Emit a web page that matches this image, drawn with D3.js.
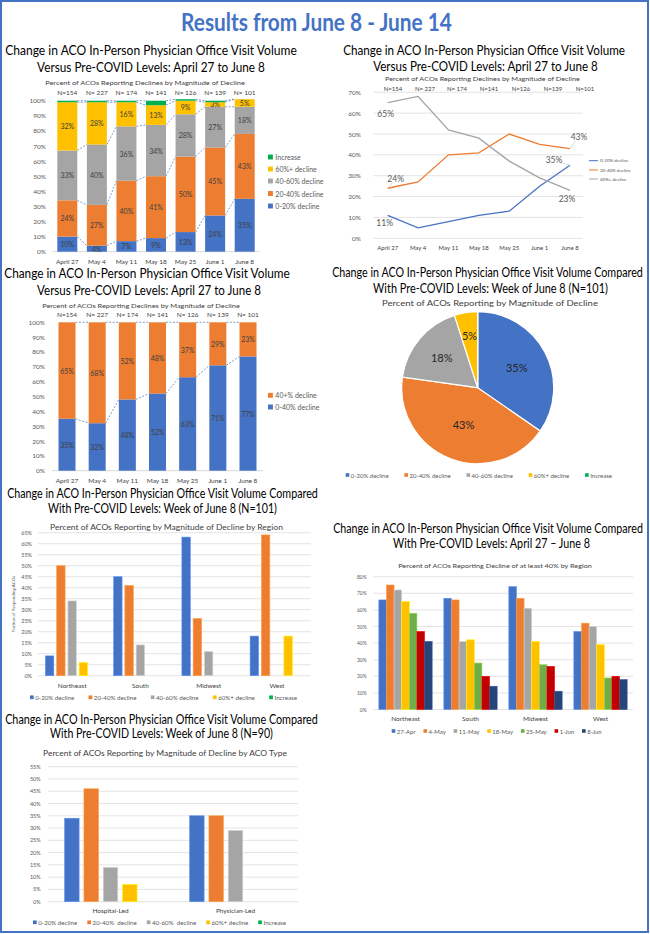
<!DOCTYPE html>
<html>
<head>
<meta charset="utf-8">
<script src="https://cdn.jsdelivr.net/npm/d3@7"></script>
<style>
body{margin:0;background:#fff}
svg{font-family:Lato,"Open Sans",sans-serif;display:block}
</style>
</head>
<body>
<script>
// ---- DATA ----
const weeks = ["April 27","May 4","May 11","May 18","May 25","June 1","June 8"]
const nLabels = ["N=154","N= 227","N= 174","N= 141","N= 126","N= 139","N= 101"]
const nLabels2 = ["N=154","N= 227","N= 174","N=141","N=126","N=139","N=101"]
const declineCats = ["0-20% decline","20-40% decline","40-60% decline","60%+ decline","Increase"]

// stacked chart, April 27 - June 8
const dec0_20 = [10,4,7,9,13,24,35]
const dec20_40 = [24,27,40,41,50,45,43]
const dec40_60 = [33,40,36,34,28,27,18]
const dec60plus = [32,28,16,13,9,3,5]
const increase = [1,1,1,3,1,1,0]

// line chart
const line0_20 = [11,5,8,11,13,25,35]
const line20_40 = [24,27,40,41,50,45,43]
const line40plus = [65,68,52,48,37,29,23]

// two-part stacked chart
const dec0_40 = [35,32,48,52,63,71,77]
const dec40plusBar = [65,68,52,48,37,29,23]

// pie, week of June 8
const pieVals = [35,43,18,5,0]

// by region, week of June 8
const regions = ["Northeast","South","Midwest","West"]
const reg0_20 = [9,45,63,18]
const reg20_40 = [50,41,26,64]
const reg40_60 = [34,14,11,0]
const reg60plus = [6,0,0,18]
const regIncrease = [0,0,0,0]

// decline of at least 40% by region, per week
const weekShort = ["27-Apr","4-May","11-May","18-May","25-May","1-Jun","8-Jun"]
const w27Apr = [66,67,74,47]
const w4May = [75,66,67,52]
const w11May = [72,41,61,50]
const w18May = [65,42,41,39]
const w25May = [58,28,27,19]
const w1Jun = [47,20,26,20]
const w8Jun = [41,14,11,18]

// by ACO type
const acoTypes = ["Hospital-Led","Physician-Led"]
const type0_20 = [34,35]
const type20_40 = [46,35]
const type40_60 = [14,29]
const type60plus = [7,0]
const typeIncrease = [0,0]
const typeLegend = ["0-20% decline","20-40%  decline","40-60%  decline","60%+ decline","Increase"]

// ---- COLOURS ----
const blue = "#4472C4", orange = "#ED7D31", grey = "#A5A5A5", yellow = "#FFC000", green = "#00B050"
const catColors = [blue, orange, grey, yellow, green]
const weekColors = [blue, orange, grey, yellow, "#70AD47", "#C00000", "#264478"]
const gridC = "#D9D9D9", textC = "#595959"

const svg = d3.select("body").append("svg").attr("width",650).attr("height",934)

function label(g, x, y, s, size, color, anchor){
  return g.append("text").attr("x",x).attr("y",y)
    .attr("font-size",size).attr("fill",color || textC)
    .attr("text-anchor",anchor || "middle")
    .attr("dominant-baseline","central")
    .style("white-space","pre")
    .text(s)
}
// title squeezed horizontally so it spans x1..x2
function title(x1, x2, y, s, size, color, bold){
  const t = label(svg,0,0,s,size,color || "#000")
  if (bold) t.attr("font-weight","bold")
  const sx = (x2-x1) / t.node().getComputedTextLength()
  t.attr("transform",`translate(${(x1+x2)/2},${y}) scale(${sx},1)`)
  return t
}
// horizontal legend spread between x1 and x2
function legendRow(x1, x2, y, names, colors, size){
  const g = svg.append("g")
  const items = names.map((n,i) => {
    const it = g.append("g")
    it.append("rect").attr("x",0).attr("y",y-size*0.3).attr("width",size*0.6).attr("height",size*0.6).attr("fill",colors[i])
    const t = label(it, size*0.85, y, n, size, textC, "start")
    return {it, w: size*0.85 + t.node().getComputedTextLength()}
  })
  const total = d3.sum(items, d=>d.w)
  const gap = (x2 - x1 - total) / (items.length - 1)
  let x = x1
  items.forEach(d => { d.it.attr("transform",`translate(${x},0)`); x += d.w + gap })
}
function legendCol(x, ys, names, colors, size){
  names.forEach((n,i) => {
    svg.append("rect").attr("x",x).attr("y",ys[i]-size*0.35).attr("width",size*0.7).attr("height",size*0.7).attr("fill",colors[i])
    label(svg, x+size*1.05, ys[i], n, size, textC, "start")
  })
}

// outer border + main title
svg.append("rect").attr("x",1).attr("y",1).attr("width",647).attr("height",931)
  .attr("fill","none").attr("stroke",blue).attr("stroke-width",2)
title(181,452,21,"Results from June 8 - June 14",25,blue,true)

// ---- 1. STACKED BARS ----
function stackedBars(o){
  const x = d3.scalePoint().domain(weeks).range(o.xr)
  const y = d3.scaleLinear().domain([0,100]).range(o.yr)
  const rows = weeks.map((w,i) => o.series.map(s => s[i]))
  const st = d3.stack().keys(d3.range(o.series.length))(rows)
  const hw = o.bw/2
  const g = svg.append("g")

  y.ticks(10).forEach(t => label(g, o.yLabX, y(t), t+"%", 6.5, textC, "end"))
  g.append("line").attr("x1",o.xr[0]-15).attr("x2",o.xr[1]+15).attr("y1",y(0)).attr("y2",y(0)).attr("stroke",gridC)

  st.forEach((s,k) => {
    g.selectAll(null).data(s).enter().append("rect")
      .attr("x",(d,j)=>x(weeks[j])-hw).attr("width",o.bw)
      .attr("y",d=>y(d[1])).attr("height",d=>y(d[0])-y(d[1]))
      .attr("fill",o.colors[k])
    // series lines
    for (let j=0; j<weeks.length-1; j++){
      g.append("line")
        .attr("x1",x(weeks[j])+hw).attr("y1",y(s[j][1]))
        .attr("x2",x(weeks[j+1])-hw).attr("y2",y(s[j+1][1]))
        .attr("stroke",blue).attr("stroke-width",0.7).attr("stroke-dasharray","2,1.5")
    }
    if (k < o.labelled){
      s.forEach((d,j) => {
        const v = d[1]-d[0]
        if (v > 0) label(g, x(weeks[j]), (y(d[0])+y(d[1]))/2, v+"%", 7, "#404040")
      })
    }
  })
  weeks.forEach((w,j) => {
    label(g, x(w), o.xLabY, w, 6.5, "#404040")
    label(g, x(w), o.nY, nLabels[j], 6.5, "#404040")
  })
}

title(5,297,50,"Change in ACO In-Person Physician Office Visit Volume",13)
title(37,265,67,"Versus Pre-COVID Levels: April 27 to June 8",13)
title(45,245,82,"Percent of ACOs Reporting Declines by Magnitude of Decline",6.5,"#404040")
stackedBars({xr:[67.3,244.7], yr:[251.7,100.7], bw:20, yLabX:46,
  series:[dec0_20,dec20_40,dec40_60,dec60plus,increase], colors:catColors, labelled:4,
  xLabY:261.5, nY:92})
legendCol(268,[157,169,181,193.5,206],
  ["Increase","60%+ decline","40-60% decline","20-40% decline","0-20% decline"],
  [green,yellow,grey,orange,blue],7)

// ---- 2. LINE CHART ----
title(343,625,50,"Change in ACO In-Person Physician Office Visit Volume",12.5)
title(373,598,66,"Versus Pre-COVID Levels: April 27 to June 8",12.5)
title(385,580,78,"Percent of ACOs Reporting Declines by Magnitude of Decline",6,"#404040")
{
  const x = d3.scalePoint().domain(weeks).range([387.7,570])
  const xn = d3.scalePoint().domain(weeks).range([393,585])
  const y = d3.scaleLinear().domain([0,70]).range([238.3,92.3])
  const g = svg.append("g")
  y.ticks(7).forEach(t => {
    g.append("line").attr("x1",373).attr("x2",583).attr("y1",y(t)).attr("y2",y(t)).attr("stroke",gridC).attr("stroke-width",0.7)
    label(g, 361, y(t), t+"%", 6.5, textC, "end")
  })
  weeks.forEach((w,j) => {
    label(g, x(w), 247.7, w, 6, "#404040")
    label(g, xn(w), 88, nLabels2[j], 6, "#404040")
  })
  const line = d3.line().x((d,j)=>x(weeks[j])).y(d=>y(d))
  const ser = [line0_20, line20_40, line40plus], cols = [blue, orange, grey]
  ser.forEach((s,k) => g.append("path").attr("d",line(s)).attr("fill","none").attr("stroke",cols[k]).attr("stroke-width",1.3))
  // data labels: [series, index, dx, dy, leader]
  const dl = [[2,0,-2,11.6,false],[1,0,8,-9.5,true],[0,0,-3,8,false],[1,6,9,-12,true],[0,6,-16,-5,true],[2,6,-3,9,false]]
  dl.forEach(([k,j,dx,dy,lead]) => {
    const px = x(weeks[j]), py = y(ser[k][j])
    if (lead) g.append("line").attr("x1",px).attr("y1",py).attr("x2",px+dx*0.6).attr("y2",py+dy*0.6).attr("stroke","#BFBFBF").attr("stroke-width",0.6)
    label(g, px+dx, py+dy, ser[k][j]+"%", 8.5, textC)
  })
  const ys = [160.7,170,179], names = ["0-20% decline","20-40% decline","40%+ decline"]
  names.forEach((n,i) => {
    g.append("line").attr("x1",589).attr("x2",598).attr("y1",ys[i]).attr("y2",ys[i]).attr("stroke",cols[i]).attr("stroke-width",1)
    label(g, 600, ys[i], n, 4.5, textC, "start")
  })
}

// ---- 3. TWO-PART STACKED ----
title(4,290,273,"Change in ACO In-Person Physician Office Visit Volume",13)
title(37,261,290,"Versus Pre-COVID Levels: April 27 to June 8",13)
title(42,240,305,"Percent of ACOs Reporting Declines by Magnitude of Decline",6.5,"#404040")
stackedBars({xr:[67,248], yr:[470.7,322.3], bw:17, yLabX:45,
  series:[dec0_40,dec40plusBar], colors:[blue,orange], labelled:2,
  xLabY:480.3, nY:314.3})
legendCol(268,[395.3,407],["40+% decline","0-40% decline"],[orange,blue],7)

// ---- 4. PIE ----
title(332,643,272,"Change in ACO In-Person Physician Office Visit Volume Compared",12.5)
title(373,608,287.5,"With Pre-COVID Levels: Week of June 8 (N=101)",12.5)
title(382,598,303,"Percent of ACOs Reporting by Magnitude of Decline",8.5,"#404040")
{
  const g = svg.append("g").attr("transform","translate(477.7,387.7)")
  const arcs = d3.pie().sort(null).value(d=>d)(pieVals)
  const arc = d3.arc().innerRadius(0).outerRadius(76)
  g.selectAll("path").data(arcs).enter().append("path")
    .attr("d",arc).attr("fill",(d,i)=>catColors[i]).attr("stroke","#fff").attr("stroke-width",1.2)
  const labelR = [44,39,47,53]
  arcs.forEach((a,i) => {
    if (!a.data) return
    const c = d3.arc().innerRadius(labelR[i]).outerRadius(labelR[i]).centroid(a)
    label(g, c[0], c[1], a.data+"%", 11, "#262626")
  })
  legendRow(345.7,612,475,declineCats,catColors,6)
}

// ---- grouped bar helper ----
function groupedBars(o){
  const x0 = d3.scaleBand().domain(o.groups).range(o.xr).paddingInner(o.pad).paddingOuter(o.pad/2)
  const x1 = d3.scaleBand().domain(d3.range(o.series.length)).range([0,x0.bandwidth()]).paddingInner(o.innerPad)
  const y = d3.scaleLinear().domain([0,o.max]).range(o.yr)
  const g = svg.append("g")
  d3.range(0,o.max+0.1,o.step).forEach(t => {
    g.append("line").attr("x1",o.xr[0]).attr("x2",o.xr[1]).attr("y1",y(t)).attr("y2",y(t)).attr("stroke",gridC).attr("stroke-width",0.7)
    label(g, o.yLabX, y(t), t+"%", o.tickSize, textC, "end")
  })
  o.series.forEach((s,k) => {
    g.selectAll(null).data(s).enter().append("rect")
      .attr("x",(d,i)=>x0(o.groups[i])+x1(k)).attr("width",x1.bandwidth())
      .attr("y",d=>y(d)).attr("height",d=>y(0)-y(d))
      .attr("fill",o.colors[k])
      .attr("stroke",d3.color(o.colors[k]).brighter(0.7)).attr("stroke-width",0.6)
  })
  o.groups.forEach(gr => label(g, x0(gr)+x0.bandwidth()/2, o.xLabY, gr, 6.5, "#404040"))
}

// ---- 5. BY REGION ----
title(7,318,493.3,"Change in ACO In-Person Physician Office Visit Volume Compared",12.5)
title(48,277,507.7,"With Pre-COVID Levels: Week of June 8 (N=101)",12.5)
title(50,283,526.7,"Percent of ACOs Reporting by Magnitude of Decline by Region",8,"#404040")
groupedBars({groups:regions, xr:[38,311], pad:0.216, innerPad:0.25,
  series:[reg0_20,reg20_40,reg40_60,reg60plus,regIncrease], colors:catColors,
  max:65, step:5, yr:[675.7,532.7], yLabX:32, tickSize:5.5, xLabY:685})
label(svg,13,604,"Portion of Responding ACOs",4.5,textC).attr("transform","rotate(-90,13,604)")
legendRow(30,297,697.3,declineCats,catColors,6.2)

// ---- 6. >=40% DECLINE BY REGION OVER TIME ----
title(333,643,528.3,"Change in ACO In-Person Physician Office Visit Volume Compared",12.5)
title(393,590,542.7,"With Pre-COVID Levels: April 27 \u2013 June 8",12.5)
title(398,592,565,"Percent of ACOs Reporting Decline of at least 40% by Region",6.5,"#404040")
groupedBars({groups:regions, xr:[373,633], pad:0.18, innerPad:0,
  series:[w27Apr,w4May,w11May,w18May,w25May,w1Jun,w8Jun], colors:weekColors,
  max:80, step:10, yr:[709.5,576.7], yLabX:366.7, tickSize:5, xLabY:718.3})
legendRow(391.7,601.7,731,weekShort,weekColors,6)

// ---- 7. BY ACO TYPE ----
title(5,318,719,"Change in ACO In-Person Physician Office Visit Volume Compared",12.5)
title(50,273,733.3,"With Pre-COVID Levels: Week of June 8 (N=90)",12.5)
title(43,287,753.3,"Percent of ACOs Reporting by Magnitude of Decline by ACO Type",8,"#404040")
groupedBars({groups:acoTypes, xr:[48,298], pad:0.266, innerPad:0.25,
  series:[type0_20,type20_40,type40_60,type60plus,typeIncrease], colors:catColors,
  max:55, step:5, yr:[901.7,766.7], yLabX:40.7, tickSize:5.5, xLabY:910.7})
legendRow(33,286,922.3,typeLegend,catColors,6.2)
</script>
</body>
</html>
